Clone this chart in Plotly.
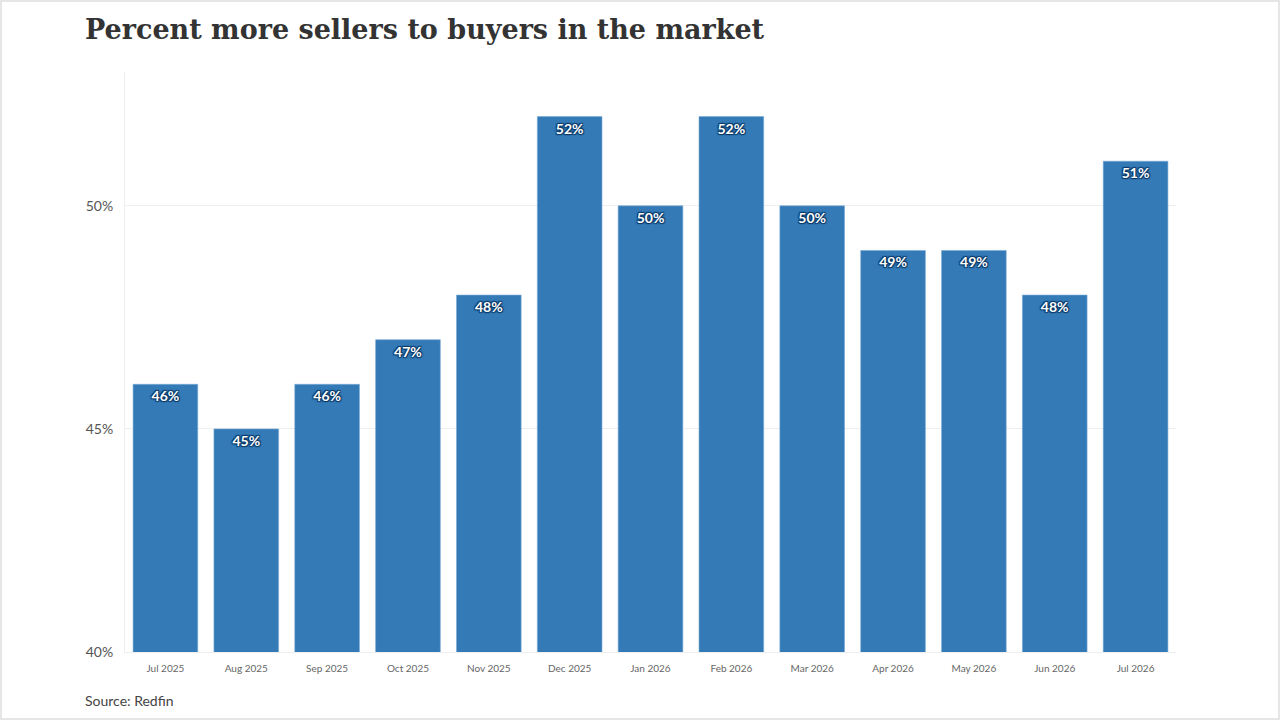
import plotly.graph_objects as go

months = ['Jul 2025', 'Aug 2025', 'Sep 2025', 'Oct 2025', 'Nov 2025', 'Dec 2025',
          'Jan 2026', 'Feb 2026', 'Mar 2026', 'Apr 2026', 'May 2026', 'Jun 2026', 'Jul 2026']
pct_more_sellers = [46, 45, 46, 47, 48, 52, 50, 52, 50, 49, 49, 48, 51]
y_ticks = [40, 45, 50]

W, H = 1280, 720
m_left, m_right, m_top, m_bottom = 125, 104, 72, 68
plot_w = W - m_left - m_right
plot_h = H - m_top - m_bottom

fig = go.Figure()
fig.add_trace(go.Bar(
    x=months,
    y=pct_more_sellers,
    marker=dict(color='rgba(40,115,178,0.95)', line=dict(color='rgba(120,170,215,0.6)', width=1)),
    text=[f'{v}%' for v in pct_more_sellers],
    textposition='inside',
    insidetextanchor='end',
    textangle=0,
    textfont=dict(family='Lato', size=14, color='white', weight='bold',
                  shadow='1px 1px 1px #0a3866, -1px -1px 1px #0a3866, '
                         '1px -1px 1px #0a3866, -1px 1px 1px #0a3866'),
    hoverinfo='skip',
))

fig.update_layout(
    width=W, height=H,
    margin=dict(l=m_left, r=m_right, t=m_top, b=m_bottom),
    paper_bgcolor='white',
    plot_bgcolor='white',
    bargap=0.2,
    showlegend=False,
    font=dict(family='Lato', color='#555'),
    title=dict(text='Percent more sellers to buyers in the market',
               font=dict(family='DejaVu Serif', size=27, color='#333', weight='bold'),
               x=85 / W, xanchor='left', y=1 - 30 / H, yanchor='middle'),
)
fig.update_xaxes(
    showgrid=False, showline=True, linecolor='#eee', linewidth=1,
    tickfont=dict(size=10, color='#666'), ticks='', ticklen=0,
    ticklabelstandoff=7,
)
fig.update_yaxes(
    range=[40, 53], tickvals=y_ticks, ticktext=[f'{t}%' for t in y_ticks],
    showgrid=True, gridcolor='#eee', gridwidth=1, zeroline=False,
    showline=True, linecolor='#eee', linewidth=1,
    tickfont=dict(size=14, color='#555'), ticks='', ticklabelstandoff=8,
)

fig.add_annotation(
    text='Source: Redfin', xref='paper', yref='paper',
    x=(83 - m_left) / plot_w, y=-(700 - (H - m_bottom)) / plot_h,
    xanchor='left', yanchor='middle', showarrow=False,
    font=dict(family='Lato', size=14, color='#444'),
)

# light frame around the page
fig.add_shape(
    type='rect', xref='paper', yref='paper', layer='below',
    x0=-(m_left - 1) / plot_w, x1=1 + (m_right - 1) / plot_w,
    y0=-(m_bottom - 1) / plot_h, y1=1 + (m_top - 1) / plot_h,
    line=dict(color='#e6e6e6', width=2),
)

fig.write_html('out.html', config={'displayModeBar': False},
               post_script="document.body.style.margin='0';")
